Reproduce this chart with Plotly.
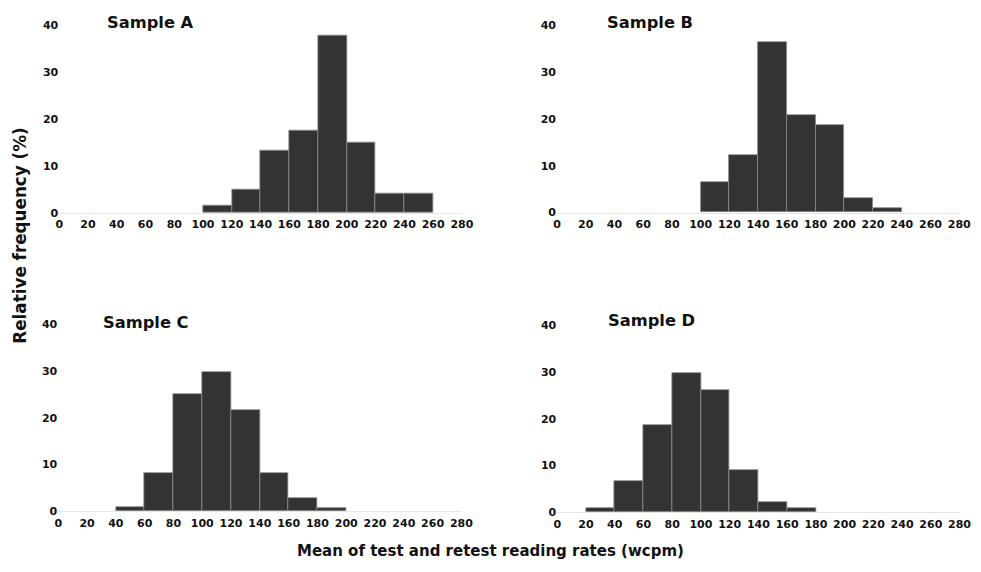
import plotly.graph_objects as go

# ---- data (relative frequency %, 20-wcpm bins; bin start values) ----
bins_a = [100, 120, 140, 160, 180, 200, 220, 240]
freq_a = [1.5, 4.9, 13.3, 17.5, 37.8, 15.0, 4.1, 4.1]

bins_b = [100, 120, 140, 160, 180, 200, 220]
freq_b = [6.4, 12.2, 36.3, 20.9, 18.6, 3.1, 0.9]

bins_c = [40, 60, 80, 100, 120, 140, 160, 180]
freq_c = [0.9, 8.2, 25.1, 29.8, 21.7, 8.2, 2.9, 0.7]

bins_d = [20, 40, 60, 80, 100, 120, 140, 160]
freq_d = [0.9, 6.7, 18.6, 29.8, 26.1, 9.0, 2.3, 0.9]

panel_titles = ["Sample A", "Sample B", "Sample C", "Sample D"]
x_ticks = list(range(0, 281, 20))
y_ticks = [0, 10, 20, 30, 40]
bin_width = 20

W, H = 981, 572
FONT = "DejaVu Sans"

# map target-picture pixel positions to figure pixel positions
SX, CX = 0.985, 11.0
SY, CY = 0.979, 13.4

def fx(px):
    return ((px - CX) / SX) / W

def fy(py):
    return 1 - ((py - CY) / SY) / H

# target pixel layout of each panel: (x at 0, x at 280, y baseline, y at 40)
panels = [
    (58.3, 461.5, 212.7, 25.0),
    (556.7, 959.5, 212.3, 24.5),
    (57.3, 461.0, 511.7, 324.0),
    (557.0, 959.8, 512.7, 325.0),
]
title_pos = [(104.5, 22), (604.5, 22), (100.5, 322), (605.5, 320)]
datasets = [(bins_a, freq_a), (bins_b, freq_b), (bins_c, freq_c), (bins_d, freq_d)]

fig = go.Figure()
layout = dict(
    width=W, height=H, autosize=False,
    margin=dict(l=0, r=0, t=0, b=0),
    paper_bgcolor="white", plot_bgcolor="white",
    showlegend=False, bargap=0,
    font=dict(family=FONT, color="#111"),
)
annotations = []
for i, ((bins, freq), (x0, x1, yb, yt)) in enumerate(zip(datasets, panels)):
    n = "" if i == 0 else str(i + 1)
    centers = [b + bin_width / 2 for b in bins]
    fig.add_trace(go.Bar(
        x=centers, y=freq, width=[bin_width] * len(bins),
        marker=dict(color="#333333", line=dict(color="#8c8c8c", width=0.8)),
        xaxis="x" + n, yaxis="y" + n, hoverinfo="x+y",
    ))
    layout["xaxis" + n] = dict(
        domain=[fx(x0), fx(x1)], range=[0, 280], anchor="y" + n,
        tickvals=x_ticks, ticktext=[str(t) for t in x_ticks],
        showgrid=False, zeroline=False, showline=True, linecolor="#e6e6e6",
        linewidth=1, ticks="", ticklabelstandoff=1,
        tickfont=dict(family=FONT, size=11, color="#111", weight="bold"),
    )
    layout["yaxis" + n] = dict(
        domain=[fy(yb), fy(yt)], range=[0, 40], anchor="x" + n,
        tickvals=y_ticks, showgrid=False, zeroline=False, showline=False,
        ticks="",
        tickfont=dict(family=FONT, size=11, color="#111", weight="bold"),
    )
    tx, ty = title_pos[i]
    annotations.append(dict(
        text=panel_titles[i], x=fx(tx), y=fy(ty), xref="paper", yref="paper",
        xanchor="left", yanchor="middle", showarrow=False,
        font=dict(family=FONT, size=16.3, color="#111", weight="bold"),
    ))

annotations.append(dict(
    text="Relative frequency (%)", x=fx(19), y=fy(235.5), xref="paper", yref="paper",
    xanchor="center", yanchor="middle", textangle=-90, showarrow=False,
    font=dict(family=FONT, size=16.8, color="#111", weight="bold"),
))
annotations.append(dict(
    text="Mean of test and retest reading rates (wcpm)", x=fx(490), y=fy(551),
    xref="paper", yref="paper", xanchor="center", yanchor="middle",
    showarrow=False,
    font=dict(family=FONT, size=15, color="#111", weight="bold"),
))
layout["annotations"] = annotations
fig.update_layout(**layout)
fig.write_html("out.html")
